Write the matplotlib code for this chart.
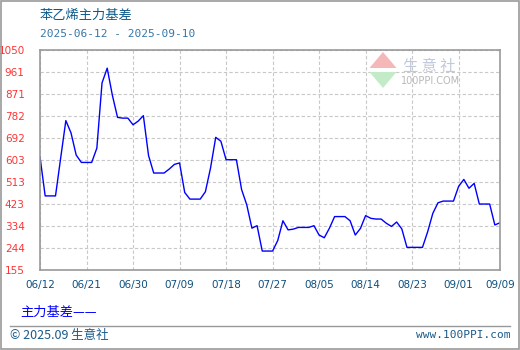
import numpy as np
import matplotlib.pyplot as plt
from matplotlib.patches import Rectangle, Polygon
from matplotlib.lines import Line2D

plt.rcParams['font.family'] = ['Noto Sans CJK SC', 'DejaVu Sans']

# daily values, 06/12 .. 09/09
basis = [615, 456, 456, 456, 610, 762, 712, 622, 592, 592,
         592, 650, 915, 975, 865, 775, 772, 772, 745, 760,
         782, 620, 549, 549, 549, 565, 584, 590, 470, 443,
         443, 443, 473, 570, 694, 678, 603, 603, 603, 482,
         420, 325, 335, 232, 232, 232, 275, 355, 318, 321,
         328, 328, 328, 335, 297, 286, 325, 372, 372, 372,
         355, 297, 324, 376, 365, 362, 362, 345, 332, 350,
         322, 247, 247, 247, 247, 310, 385, 428, 435, 435,
         435, 495, 523, 487, 507, 423, 423, 423, 338, 347]
xtick_labels = ['06/12', '06/21', '06/30', '07/09', '07/18', '07/27',
                '08/05', '08/14', '08/23', '09/01', '09/09']
ytick_labels = ['155', '244', '334', '423', '513', '603', '692',
                '782', '871', '961', '1050']

days = np.arange(len(basis))
xticks = [0, 9, 18, 27, 36, 45, 54, 63, 72, 81, 89]
yticks = 155 + 89.5 * np.arange(11)

fig = plt.figure(figsize=(5.2, 3.5), dpi=100)
ax = fig.add_axes([40/520, 80/350, 460/520, 220.3/350])

ax.plot(days, basis, color='#0000ff', lw=1.0)
ax.set_xlim(0, 89)
ax.set_ylim(155, 1050)
ax.set_xticks(xticks)
ax.set_xticklabels(xtick_labels, color='#0d4f7f', fontsize=7.5,
                   family='DejaVu Sans')
ax.set_yticks(yticks)
ax.set_yticklabels(ytick_labels, color='#ff3333', fontsize=7.5,
                   family='DejaVu Sans')
ax.tick_params(length=0, pad=7)
ax.tick_params(axis='y', pad=11)
ax.grid(color='#c8c8c8', ls=(0, (3, 2)), lw=0.8)
for s in ax.spines.values():
    s.set_color('#999999')
    s.set_linewidth(1.2)

# watermark
wm = fig.add_axes([368/520, 1 - 90/350, 30/520, 40/350])
wm.axis('off')
wm.set_xlim(0, 1)
wm.set_ylim(0, 1)
wm.add_patch(Polygon([[0.05, 0.55], [0.95, 0.55], [0.5, 0.95]],
                     color='#f4b8b8', lw=0))
wm.add_patch(Polygon([[0.05, 0.45], [0.95, 0.45], [0.5, 0.05]],
                     color='#c4ebc8', lw=0))
fig.text(403/520, 1 - 66/350, '生 意 社', fontsize=11, color='#c0c8dc',
         va='center')
fig.text(401/520, 1 - 81/350, '100PPI.COM', fontsize=7, color='#b8b8b8',
         va='center', family='DejaVu Sans')

# titles
fig.text(40/520, 1 - 15/350, '苯乙烯主力基差', fontsize=9.5,
         color='#0d5a8c', va='center')
fig.text(40/520, 1 - 34/350, '2025-06-12 - 2025-09-10', fontsize=8,
         color='#3577a8', va='center', family='DejaVu Sans Mono')

# legend
fig.text(20/520, 1 - 312/350, '主力基差——', fontsize=9.5,
         color='#0000ff', va='center')

# footer
fig.add_artist(Line2D([10/520, 510/520], [1 - 326/350, 1 - 326/350],
                      color='#999999', lw=1.0))
fig.text(10/520, 1 - 335/350, '© 2025.09 生意社', fontsize=9,
         color='#1a5a8a', va='center')
fig.text(510/520, 1 - 335/350, 'www.100PPI.com', fontsize=8,
         color='#1a5a8a', va='center', ha='right',
         family='DejaVu Sans Mono')

fig.add_artist(Rectangle((0.001, 0.002), 0.997, 0.996, fill=False,
                         ec='#999999', lw=1.2, transform=fig.transFigure))

fig.savefig('out.png', dpi=100, facecolor='white')
